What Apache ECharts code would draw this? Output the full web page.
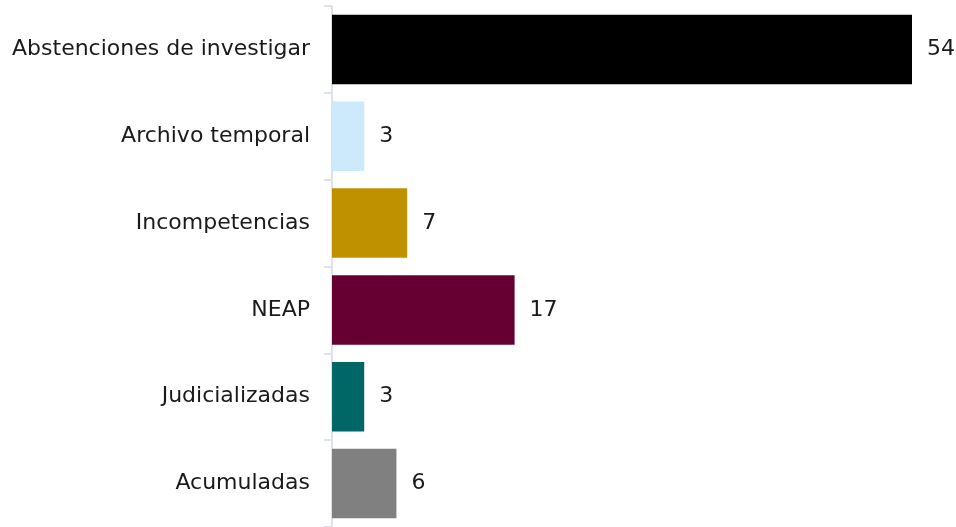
<!DOCTYPE html>
<html>
<head>
<meta charset="utf-8">
<script src="https://cdn.jsdelivr.net/npm/echarts@6/dist/echarts.min.js"></script>
<style>
  html, body { margin: 0; padding: 0; background: #fff; }
  #chart { width: 956px; height: 527px; }
</style>
</head>
<body>
<div id="chart"></div>
<script>
const categories = ['Abstenciones de investigar', 'Archivo temporal', 'Incompetencias', 'NEAP', 'Judicializadas', 'Acumuladas']
const values = [54, 3, 7, 17, 3, 6]
const barColors = ['#000000', '#cdeafd', '#bf9000', '#660033', '#006666', '#808080']

const chart = echarts.init(document.getElementById('chart'))

const options = {
  animation: false,
  grid: {
    left: 332,
    right: 44,
    top: 6,
    bottom: 0,
  },
  xAxis: {
    type: 'value',
    min: 0,
    max: 54,
    show: false,
  },
  yAxis: {
    type: 'category',
    inverse: true,
    data: categories,
    axisLine: {
      lineStyle: { color: '#dde1e9', width: 2 },
    },
    axisTick: {
      show: true,
      length: 8,
      lineStyle: { color: '#dde1e9', width: 2 },
    },
    axisLabel: {
      margin: 22,
      fontSize: 22,
      fontFamily: 'DejaVu Sans',
      color: '#1a1a1a',
    },
  },
  series: [
    {
      type: 'bar',
      barCategoryGap: '20%',
      data: values.map((v, i) => ({ value: v, itemStyle: { color: barColors[i] } })),
      label: {
        show: true,
        position: 'right',
        distance: 15,
        fontSize: 22,
        fontFamily: 'DejaVu Sans',
        color: '#1a1a1a',
      },
    },
  ],
}

chart.setOption(options, true)
</script>
</body>
</html>
